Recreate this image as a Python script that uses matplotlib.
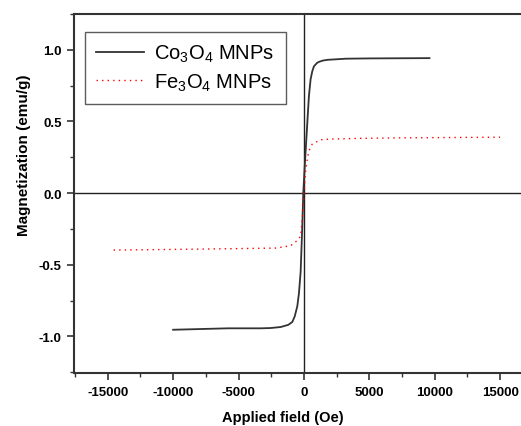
import numpy as np
import matplotlib
matplotlib.use("Agg")
import matplotlib.pyplot as plt
from matplotlib.ticker import MultipleLocator

plt.rcParams['font.family'] = ['Liberation Sans', 'DejaVu Sans']
plt.rcParams['mathtext.default'] = 'regular'
plt.rcParams['axes.unicode_minus'] = False

# Co3O4 MNPs
co_field = [-10000, -5800, -3300, -2550, -1780, -1200, -890, -700, -505, -380, -250, -123,
            -50, 77, 260, 385, 513, 640, 766, 1000, 1150, 1450, 1790, 3200, 5000, 9600]
co_mag = [-0.954, -0.944, -0.944, -0.942, -0.935, -0.92, -0.90, -0.86, -0.79, -0.70, -0.55, -0.23,
          0.0, 0.21, 0.49, 0.68, 0.795, 0.85, 0.885, 0.908, 0.916, 0.925, 0.93, 0.938, 0.940, 0.942]

# Fe3O4 MNPs
fe_field = [-14550, -7900, -2170, -1020, -635, -505, -250, -125, -50, 0,
            130, 260, 385, 640, 1280, 2040, 4340, 8000, 15000]
fe_mag = [-0.398, -0.391, -0.384, -0.368, -0.340, -0.333, -0.30, -0.18, -0.088, -0.02,
          0.156, 0.237, 0.295, 0.342, 0.372, 0.377, 0.382, 0.386, 0.39]

fig = plt.figure(figsize=(5.21, 4.27), dpi=100)
ax = fig.add_axes([74 / 521, 1 - 374.3 / 427, 447 / 521, 359.3 / 427])

ax.axhline(0, color='#222222', lw=1.0, zorder=1)
ax.axvline(0, color='#222222', lw=1.0, zorder=1)

ax.plot(co_field, co_mag, color='#333333', lw=1.3, label='Co$_3$O$_4$ MNPs', zorder=3)
ax.plot(fe_field, fe_mag, color='red', lw=1.0, linestyle=(0, (1, 3)),
        label='Fe$_3$O$_4$ MNPs', zorder=3)

ax.set_xlim(-17580, 16600)
ax.set_ylim(-1.258, 1.25)
ax.xaxis.set_major_locator(MultipleLocator(5000))
ax.xaxis.set_minor_locator(MultipleLocator(2500))
ax.yaxis.set_major_locator(MultipleLocator(0.5))
ax.yaxis.set_minor_locator(MultipleLocator(0.25))
ax.yaxis.set_major_formatter(matplotlib.ticker.FormatStrFormatter('%.1f'))

for s in ['left', 'bottom', 'top']:
    ax.spines[s].set_linewidth(1.5)
    ax.spines[s].set_color('#333333')
ax.spines['right'].set_visible(False)

ax.tick_params(which='major', direction='out', length=5, width=1.2, color='#333333',
               labelsize=9.5, pad=4)
ax.tick_params(which='minor', direction='out', length=3, width=1.0, color='#333333')
for lab in ax.get_xticklabels() + ax.get_yticklabels():
    lab.set_fontweight('bold')

ax.set_xlabel('Applied field (Oe)', fontsize=10.5, fontweight='bold')
ax.set_ylabel('Magnetization (emu/g)', fontsize=11, fontweight='bold')
ax.xaxis.set_label_coords((283 - 74) / 447, -0.103)
ax.yaxis.set_label_coords(-0.096, 1 - (155 - 15) / 359.3)

leg = ax.legend(loc='upper left', bbox_to_anchor=(0.0246, 0.95), fontsize=14.5,
                frameon=True, fancybox=False, edgecolor='#333333', borderaxespad=0,
                handlelength=2.4, handletextpad=0.5, borderpad=0.55, labelspacing=0.35)
leg.get_frame().set_linewidth(1.0)

fig.savefig('out.png', dpi=100)
